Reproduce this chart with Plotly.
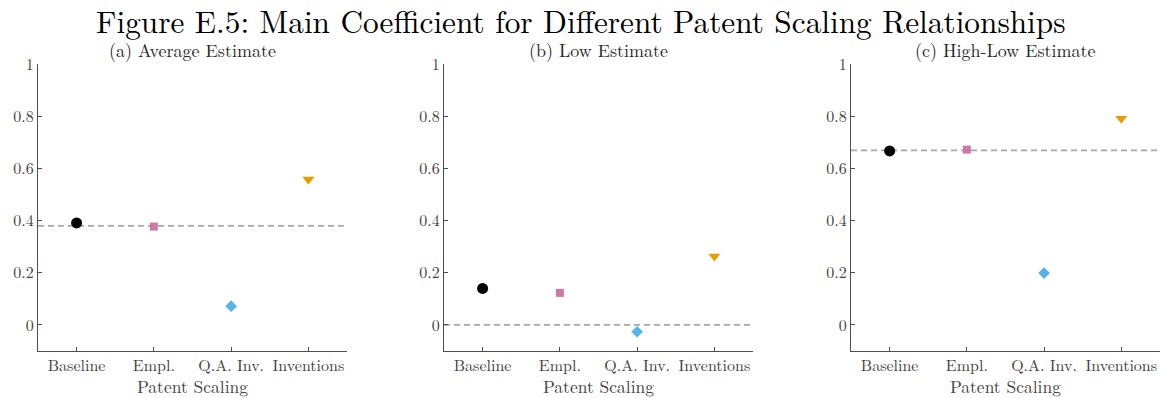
import plotly.graph_objects as go

categories = ["Baseline", "Empl.", "Q.A. Inv.", "Inventions"]
panel_titles = ["(a) Average Estimate", "(b) Low Estimate", "(c) High-Low Estimate"]
avg_values = [0.391, 0.377, 0.072, 0.558]
low_values = [0.140, 0.123, -0.026, 0.263]
highlow_values = [0.667, 0.672, 0.199, 0.791]
ref_lines = [0.380, 0.0, 0.669]
y_ticks = [0, 0.2, 0.4, 0.6, 0.8, 1]
y_ticklabels = ["0", "0.2", "0.4", "0.6", "0.8", "1"]

colors = ["#000000", "#CC79A7", "#56B4E9", "#E69F00"]
symbols = ["circle", "square", "diamond", "triangle-down"]
sizes = [11, 8, 9, 10.5]

FONT = "Latin Modern Roman, CMU Serif, Liberation Serif, serif"
axis_col = "#4d4d4d"
x_domains = [[0.0327, 0.2989], [0.3824, 0.6486], [0.733, 0.999]]
y_domain = [0.118, 0.839]

fig = go.Figure()
all_values = [avg_values, low_values, highlow_values]
for p, vals in enumerate(all_values):
    xa = "x" if p == 0 else f"x{p+1}"
    ya = "y" if p == 0 else f"y{p+1}"
    for i, cat in enumerate(categories):
        fig.add_trace(go.Scatter(
            x=[cat], y=[vals[i]], mode="markers", xaxis=xa, yaxis=ya,
            marker=dict(color=colors[i], symbol=symbols[i], size=sizes[i], line=dict(width=0)),
            showlegend=False, hoverinfo="x+y", cliponaxis=False))
    fig.add_shape(type="line", xref=f"{xa} domain", yref=ya, x0=0, x1=1,
                  y0=ref_lines[p], y1=ref_lines[p], layer="below",
                  line=dict(color="#a6a6a6", width=1.8, dash="6px,4px"))

layout = dict(
    width=1161, height=398, margin=dict(l=0, r=0, t=0, b=0, autoexpand=False),
    paper_bgcolor="white", plot_bgcolor="white",
    font=dict(family=FONT, color="#404040", size=16),
)
for p in range(3):
    suffix = "" if p == 0 else str(p + 1)
    layout[f"xaxis{suffix}"] = dict(
        domain=x_domains[p], anchor=f"y{suffix}", type="category",
        categoryorder="array", categoryarray=categories, automargin=False,
        range=[-0.5, 3.5], showline=True, linecolor=axis_col, linewidth=1,
        ticks="inside", ticklen=4, tickcolor=axis_col, showgrid=False, zeroline=False,
        tickfont=dict(family=FONT, size=16, color="#404040"),
        title=dict(text="Patent Scaling", font=dict(family=FONT, size=17.5, color="#404040"), standoff=2),
    )
    layout[f"yaxis{suffix}"] = dict(
        domain=y_domain, anchor=f"x{suffix}", range=[-0.1, 1], automargin=False,
        tickvals=y_ticks, ticktext=y_ticklabels,
        showline=True, linecolor=axis_col, linewidth=1,
        ticks="inside", ticklen=4, tickcolor=axis_col, showgrid=False, zeroline=False,
        tickfont=dict(family=FONT, size=16, color="#404040"),
    )
fig.update_layout(**layout)

for p in range(3):
    cx = (x_domains[p][0] + x_domains[p][1]) / 2
    fig.add_annotation(text=panel_titles[p], xref="paper", yref="paper", x=cx, y=1 - 49 / 398,
                       showarrow=False, yanchor="middle", xanchor="center",
                       font=dict(family=FONT, size=18, color="#262626"))

fig.add_annotation(text="Figure E.5: Main Coefficient for Different Patent Scaling Relationships",
                   xref="paper", yref="paper", x=0.5, y=1 - 20 / 398, showarrow=False,
                   yanchor="middle", xanchor="center",
                   font=dict(family=FONT, size=31.3, color="#000000"))

fig.write_html("out.html", config={"displayModeBar": False},
               post_script="document.body.style.margin='0px';document.body.style.overflow='hidden';")
